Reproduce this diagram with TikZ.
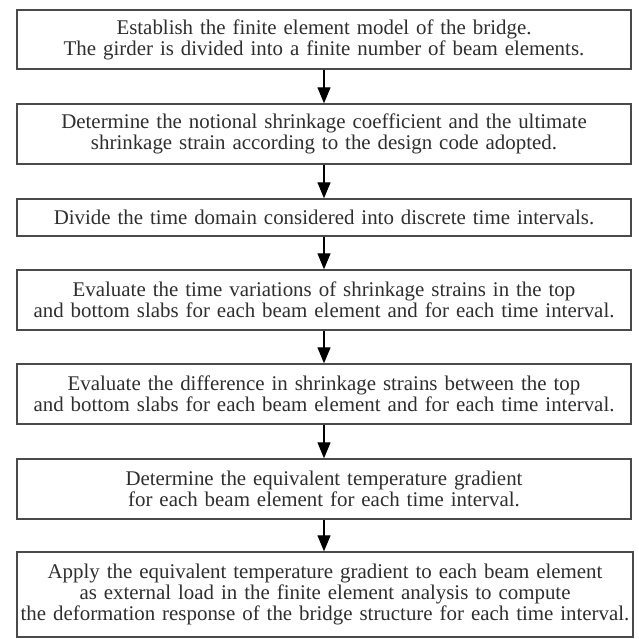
\documentclass[tikz,border=0pt]{standalone}
\usepackage{fontspec}
\setmainfont{Liberation Serif}
\usetikzlibrary{arrows.meta}
\definecolor{boxline}{HTML}{4A4A4A}
\definecolor{txt}{HTML}{2E2E2E}
\tikzset{
  stepbox/.style={draw=boxline, line width=1.4pt, rectangle, inner sep=0pt,
    minimum width=614pt, text width=612pt, align=center, text=txt,
    font=\fontsize{20.9}{20.8}\selectfont},
  flow/.style={draw=black, line width=1.2pt, -{Triangle[width=13pt,length=16pt]}}
}
\begin{document}
\begin{tikzpicture}[x=1pt,y=-1pt]
\useasboundingbox (0,0) rectangle (639,638);
\node[stepbox, minimum height=59pt] (b1) at (324,39.5) {Establish the finite element model of the bridge.\\The girder is divided into a finite number of beam elements.};
\node[stepbox, minimum height=60pt] (b2) at (324,134) {Determine the notional shrinkage coefficient and the ultimate\\shrinkage strain according to the design code adopted.};
\node[stepbox, minimum height=37pt] (b3) at (324,217.5) {Divide the time domain considered into discrete time intervals.};
\node[stepbox, minimum height=60pt] (b4) at (324,300) {Evaluate the time variations of shrinkage strains in the top\\and bottom slabs for each beam element and for each time interval.};
\node[stepbox, minimum height=60pt] (b5) at (324,394) {Evaluate the difference in shrinkage strains between the top\\and bottom slabs for each beam element and for each time interval.};
\node[stepbox, minimum height=60pt] (b6) at (324,489) {Determine the equivalent temperature gradient\\for each beam element for each time interval.};
\node[stepbox, minimum height=85pt, minimum width=616pt, text width=614pt] (b7) at (325,594.5) {Apply the equivalent temperature gradient to each beam element\\as external load in the finite element analysis to compute\\the deformation response of the bridge structure for each time interval.};
\draw[flow] (b1.south -| 324,0) -- (b2.north -| 324,0);
\draw[flow] (b2.south) -- (b3.north);
\draw[flow] (b3.south) -- (b4.north);
\draw[flow] (b4.south) -- (b5.north);
\draw[flow] (b5.south) -- (b6.north);
\draw[flow] (b6.south) -- (b6.south |- b7.north);
\end{tikzpicture}
\end{document}
